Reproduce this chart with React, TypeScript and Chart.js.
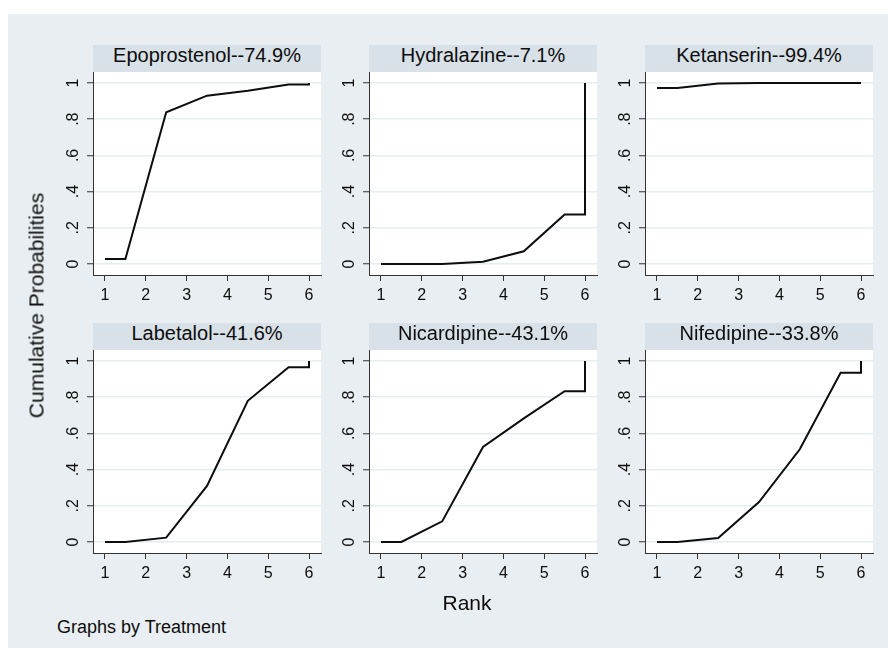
import React, { useEffect, useRef } from 'react';
import { Chart, registerables } from 'chart.js';

Chart.register(...registerables);

// Cumulative ranking probabilities by treatment (SUCRA curves)
const treatments = ['Epoprostenol', 'Hydralazine', 'Ketanserin', 'Labetalol', 'Nicardipine', 'Nifedipine'];
const sucraPercent = ['74.9', '7.1', '99.4', '41.6', '43.1', '33.8'];

// x positions of the curve vertices (rank axis)
const rankPoints = [1, 1.5, 2.5, 3.5, 4.5, 5.5, 6, 6];

const epoprostenol = [0.028, 0.028, 0.838, 0.93, 0.957, 0.992, 0.992, 1];
const hydralazine = [0, 0, 0, 0.012, 0.07, 0.273, 0.273, 1];
const ketanserin = [0.973, 0.973, 0.997, 1, 1, 1, 1, 1];
const labetalol = [0, 0, 0.024, 0.31, 0.78, 0.966, 0.966, 1];
const nicardipine = [0, 0, 0.114, 0.525, 0.683, 0.833, 0.833, 1];
const nifedipine = [0, 0, 0.022, 0.221, 0.512, 0.935, 0.935, 1];

const seriesValues = [epoprostenol, hydralazine, ketanserin, labetalol, nicardipine, nifedipine];

const xTickValues = [1, 2, 3, 4, 5, 6];
const xTickLabels = ['1', '2', '3', '4', '5', '6'];
const yTickValues = [0, 0.2, 0.4, 0.6, 0.8, 1];
const yTickLabels = ['0', '.2', '.4', '.6', '.8', '1'];

const FONT = '"Liberation Sans", Arial, Helvetica, sans-serif';
const INK = '#0d0d0d';
const AXIS = '#333333';
const OUTER_BG = '#e8eef1';
const STRIP_BG = '#d8e1e7';
const GRID = '#e5edf0';

// page-level geometry
const OX = 8;
const OY = 14;
const colX = [93, 369, 645];
const stripTops = [45, 323];
const STRIP_H = 27;
const PLOT_W = 228;
const PLOT_H = 203;
const Y_AXIS_W = 60;
const X_AXIS_H = 40;
const RIGHT_PAD = 10;

const plotBackground = {
  id: 'plotBackground',
  beforeDraw(chart: any) {
    const { ctx, chartArea } = chart;
    ctx.save();
    ctx.fillStyle = '#ffffff';
    ctx.fillRect(chartArea.left, chartArea.top, chartArea.right - chartArea.left, chartArea.bottom - chartArea.top);
    ctx.restore();
  },
};

const rotatedYLabels = {
  id: 'rotatedYLabels',
  afterDraw(chart: any) {
    const { ctx, chartArea, scales } = chart;
    const y = scales.y;
    ctx.save();
    ctx.font = `16px ${FONT}`;
    ctx.fillStyle = INK;
    ctx.textAlign = 'center';
    ctx.textBaseline = 'alphabetic';
    yTickValues.forEach((v, i) => {
      const py = y.getPixelForValue(v);
      ctx.save();
      ctx.translate(chartArea.left - 15, py);
      ctx.rotate(-Math.PI / 2);
      ctx.fillText(yTickLabels[i], 0, 0);
      ctx.restore();
    });
    ctx.restore();
  },
};

function Panel({ index }: { index: number }) {
  const ref = useRef<HTMLCanvasElement | null>(null);
  const col = index % 3;
  const row = Math.floor(index / 3);
  const stripTop = stripTops[row];
  const plotTop = stripTop + STRIP_H;
  const left = colX[col];

  useEffect(() => {
    if (!ref.current) return;
    const values = seriesValues[index];
    const chart = new Chart(ref.current, {
      type: 'line',
      data: {
        datasets: [
          {
            data: rankPoints.map((x, i) => ({ x, y: values[i] })),
            borderColor: INK,
            borderWidth: 2,
            pointRadius: 0,
            tension: 0,
            fill: false,
          },
        ],
      },
      options: {
        animation: false,
        responsive: false,
        events: [],
        layout: { padding: { top: 0, right: RIGHT_PAD, bottom: 0, left: 0 } },
        plugins: {
          legend: { display: false },
          tooltip: { enabled: false },
          title: { display: false },
        },
        scales: {
          x: {
            type: 'linear',
            bounds: 'data',
            min: 0.706,
            max: 6.294,
            afterBuildTicks: (s: any) => {
              s.ticks = xTickValues.map((v) => ({ value: v }));
            },
            afterFit: (s: any) => {
              s.height = X_AXIS_H;
              s.paddingLeft = 0;
              s.paddingRight = 0;
            },
            grid: {
              drawOnChartArea: false,
              drawTicks: true,
              tickLength: 6,
              tickColor: AXIS,
              tickWidth: 1,
            },
            border: { display: true, color: AXIS, width: 1 },
            ticks: {
              autoSkip: false,
              maxRotation: 0,
              minRotation: 0,
              padding: 5,
              color: INK,
              font: { family: FONT, size: 16 },
              callback: (_v: any, i: number) => xTickLabels[i],
            },
          },
          y: {
            type: 'linear',
            bounds: 'data',
            min: -0.0608,
            max: 1.0608,
            afterBuildTicks: (s: any) => {
              s.ticks = yTickValues.map((v) => ({ value: v }));
            },
            afterFit: (s: any) => {
              s.width = Y_AXIS_W;
              s.paddingTop = 0;
              s.paddingBottom = 0;
            },
            grid: {
              drawOnChartArea: true,
              color: GRID,
              lineWidth: 1.5,
              drawTicks: true,
              tickLength: 6,
              tickColor: AXIS,
              tickWidth: 1,
            },
            border: { display: true, color: AXIS, width: 1 },
            ticks: { display: false },
          },
        },
      } as any,
      plugins: [plotBackground, rotatedYLabels],
    });
    return () => chart.destroy();
  }, [index]);

  return (
    <>
      <div
        style={{
          position: 'absolute',
          left: left - OX,
          top: stripTop - OY,
          width: PLOT_W,
          height: STRIP_H,
          background: STRIP_BG,
          color: INK,
          fontFamily: FONT,
          fontSize: '20px',
          lineHeight: '21.5px',
          textAlign: 'center',
          whiteSpace: 'nowrap',
        }}
      >
        {`${treatments[index]}--${sucraPercent[index]}%`}
      </div>
      <canvas
        ref={ref}
        width={Y_AXIS_W + PLOT_W + RIGHT_PAD}
        height={PLOT_H + X_AXIS_H}
        style={{
          position: 'absolute',
          left: left - Y_AXIS_W - OX,
          top: plotTop - OY,
          width: Y_AXIS_W + PLOT_W + RIGHT_PAD,
          height: PLOT_H + X_AXIS_H,
        }}
      />
    </>
  );
}

export default function App() {
  return (
    <div
      style={{
        position: 'absolute',
        left: OX,
        top: OY,
        width: 880,
        height: 634,
        background: OUTER_BG,
        overflow: 'hidden',
        fontFamily: FONT,
        color: INK,
      }}
    >
      {treatments.map((_, i) => (
        <Panel key={i} index={i} />
      ))}
      <div
        style={{
          position: 'absolute',
          left: 36 - 150 - OX,
          top: 305 - 10.5 - OY,
          width: 300,
          height: 21,
          fontSize: '21px',
          lineHeight: '21px',
          textAlign: 'center',
          whiteSpace: 'nowrap',
          transform: 'rotate(-90deg)',
          transformOrigin: '50% 50%',
        }}
      >
        Cumulative Probabilities
      </div>
      <div
        style={{
          position: 'absolute',
          left: 467 - 100 - OX,
          top: 592 - OY,
          width: 200,
          fontSize: '21px',
          lineHeight: '21px',
          textAlign: 'center',
          whiteSpace: 'nowrap',
        }}
      >
        Rank
      </div>
      <div
        style={{
          position: 'absolute',
          left: 57 - OX,
          top: 618 - OY,
          fontSize: '18px',
          lineHeight: '18px',
          whiteSpace: 'nowrap',
        }}
      >
        Graphs by Treatment
      </div>
    </div>
  );
}
